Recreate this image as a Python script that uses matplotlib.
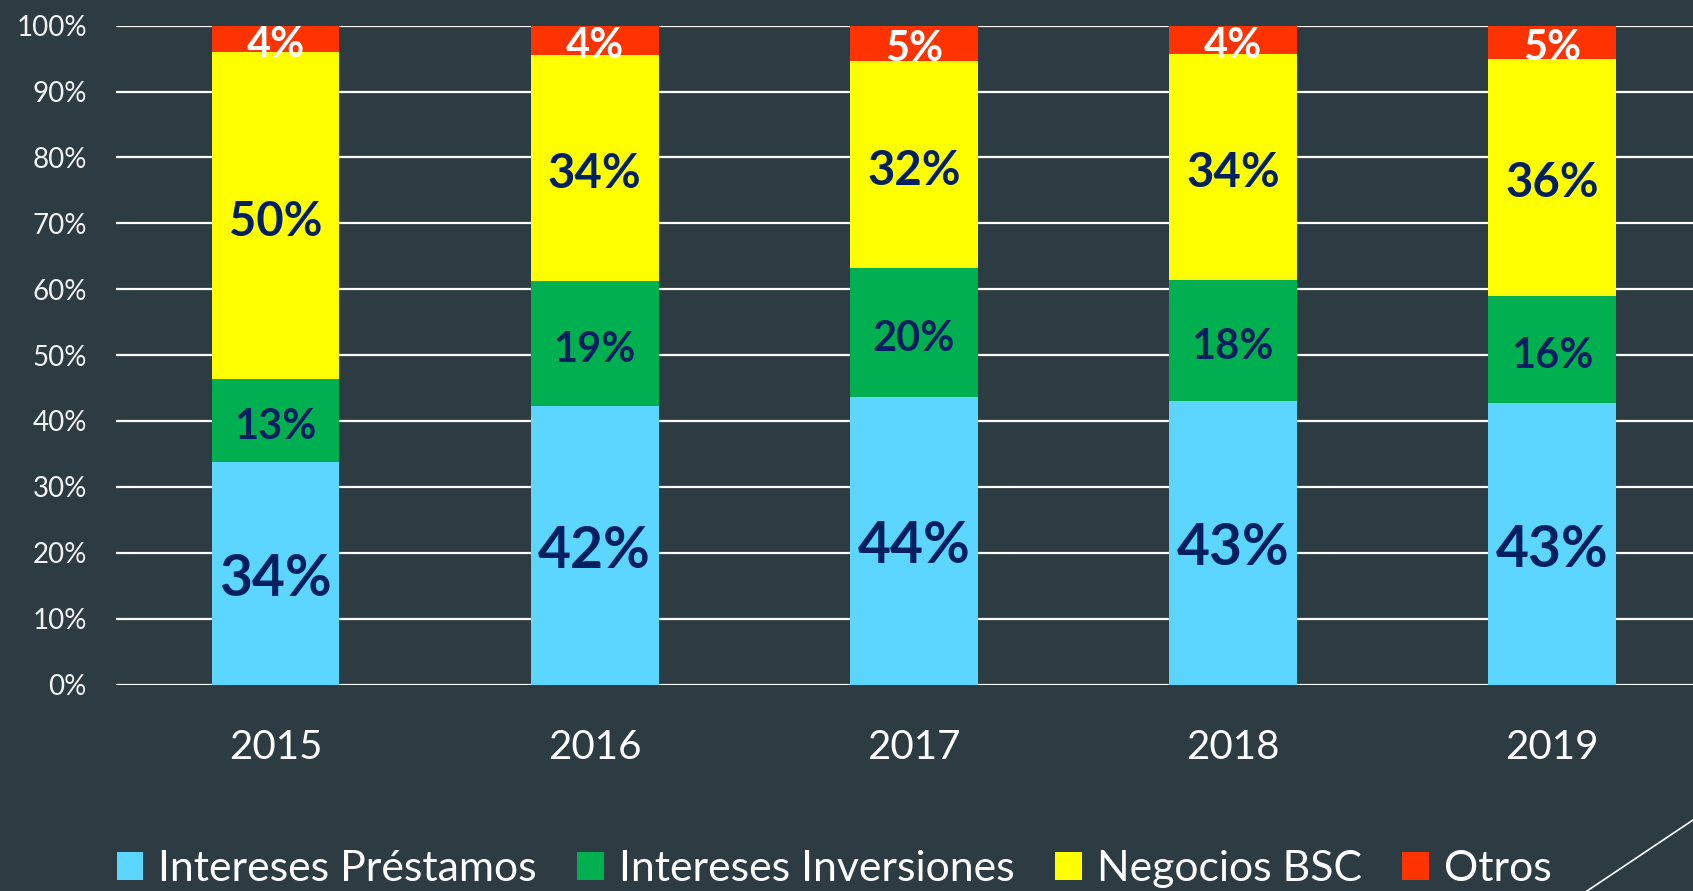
import matplotlib
matplotlib.use("Agg")
import matplotlib.pyplot as plt
from matplotlib.patches import Patch
from matplotlib.lines import Line2D
import numpy as np

years = ["2015", "2016", "2017", "2018", "2019"]
series_names = ["Intereses Préstamos", "Intereses Inversiones", "Negocios BSC", "Otros"]
prestamos = [33.7, 42.2, 43.7, 43.1, 42.7]
inversiones = [12.6, 19.1, 19.5, 18.3, 16.3]
negocios = [49.7, 34.3, 31.5, 34.3, 36.0]
otros = [4.0, 4.4, 5.3, 4.3, 5.0]
yticks = [0, 10, 20, 30, 40, 50, 60, 70, 80, 90, 100]

colors = ["#5CD5FF", "#00B050", "#FFFF00", "#FF3300"]
label_colors = ["#002060", "#002060", "#002060", "#FFFFFF"]
label_sizes = [41, 30, 34, 30]
bg = "#2D3B43"

plt.rcParams['font.family'] = ['Lato', 'DejaVu Sans']

fig = plt.figure(figsize=(16.93, 8.91), dpi=100)
fig.patch.set_facecolor(bg)
ax = fig.add_axes([116/1693, 1-684.5/891, (1711.6-116)/1693, (684.5-25.7)/891])
ax.set_facecolor(bg)

x = np.arange(len(years))
data = [prestamos, inversiones, negocios, otros]
bottom = np.zeros(len(years))
for vals, c, lc, ls in zip(data, colors, label_colors, label_sizes):
    vals = np.array(vals)
    ax.bar(x, vals, width=0.4, bottom=bottom, color=c, zorder=3, linewidth=0)
    for xi, v, b in zip(x, vals, bottom):
        ax.annotate(f"{round(v):d}%", xy=(xi, b + v/2), xytext=(0, -4.5),
                    textcoords='offset points', ha='center', va='center',
                    color=lc, fontsize=ls, fontweight='bold', zorder=5)
    bottom = bottom + vals

ax.set_xlim(-0.5, len(years) - 0.5)
ax.set_ylim(0, 100)
ax.set_yticks(yticks)
ax.set_yticklabels([f"{t}%" for t in yticks])
ax.set_xticks(x)
ax.set_xticklabels(years)
ax.tick_params(axis='y', length=0, pad=21, labelsize=20, labelcolor='#F2F2F2')
ax.tick_params(axis='x', length=0, pad=32, labelsize=29, labelcolor='#FFFFFF')
ax.yaxis.grid(True, color='white', linewidth=1.6, zorder=0)
ax.set_axisbelow(True)
for s in ax.spines.values():
    s.set_visible(False)

handles = [Patch(facecolor=c, edgecolor='none') for c in colors]
leg = fig.legend(handles, series_names, loc='center', ncol=4,
                 bbox_to_anchor=(834/1693, 1-869/891), frameon=False,
                 fontsize=30.8, handlelength=0.62, handleheight=0.65,
                 handletextpad=0.35, columnspacing=0.95, borderaxespad=0,
                 borderpad=0)
for t in leg.get_texts():
    t.set_color('#FFFFFF')

fig.add_artist(Line2D([1.0, 1587/1693], [1-820/891, 0.0], color='white',
                      linewidth=1.2, transform=fig.transFigure))

fig.savefig("out.png", dpi=100, facecolor=bg)
